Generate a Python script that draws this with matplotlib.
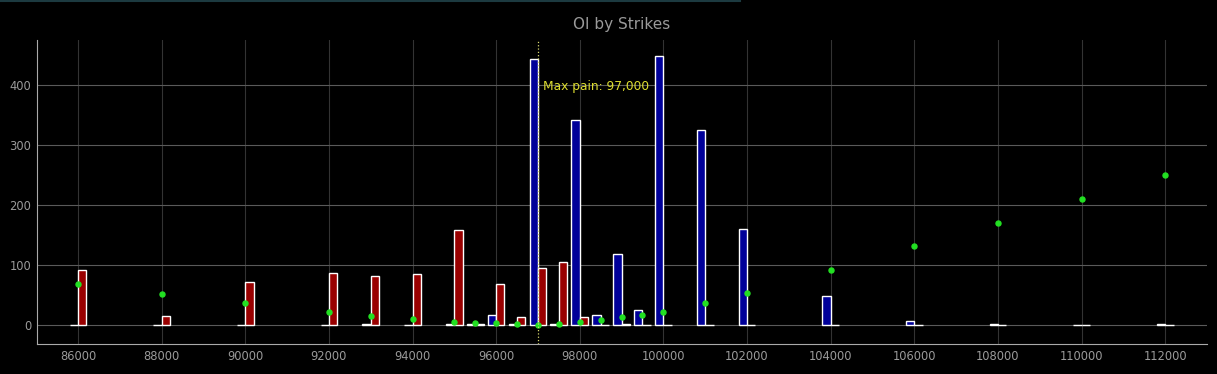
import matplotlib
matplotlib.use("Agg")
import matplotlib.pyplot as plt
from matplotlib.lines import Line2D

strikes = [86000, 88000, 90000, 92000, 93000, 94000, 95000, 95500, 96000, 96500,
           97000, 97500, 98000, 98500, 99000, 99500, 100000, 101000, 102000,
           104000, 106000, 108000, 110000, 112000]
calls_oi = [0, 0, 0, 0, 1, 0, 2, 2, 16, 1,
            443, 2, 341, 16, 118, 24, 449, 325, 160,
            48, 6, 2, 0, 2]
puts_oi = [92, 15, 71, 86, 81, 84, 158, 2, 68, 13,
           94, 104, 13, 0, 2, 0, 0, 0, 0,
           0, 0, 0, 0, 0]
pain = [68, 52, 37, 22, 15, 10, 5, 3, 3, 1,
        0, 1, 4, 8, 13, 17, 22, 37, 53,
        92, 131, 170, 210, 250]
max_pain = 97000
xticks = list(range(86000, 112001, 2000))
yticks = [0, 100, 200, 300, 400]

fig = plt.figure(figsize=(12.17, 3.74), dpi=100, facecolor="black")
ax = fig.add_axes([37/1217, 1-344/374, (1207-37)/1217, (344-40)/374])
ax.set_facecolor("black")

ax.bar(strikes, calls_oi, width=-200, align="edge", color="#000099",
       edgecolor="white", linewidth=1.0, zorder=3)
ax.bar(strikes, puts_oi, width=200, align="edge", color="#990000",
       edgecolor="white", linewidth=1.0, zorder=3)
ax.plot(strikes, pain, "o", color="#22e022", markersize=3.6, zorder=4, linestyle="none")

ax.axvline(max_pain, color="#d8d870", linestyle=":", linewidth=0.9, zorder=5)
ax.text(max_pain + 120, 398, "Max pain: 97,000", color="#dede30", fontsize=8.8,
        va="center", ha="left", zorder=6)

ax.set_xlim(85020, 113000)
ax.set_ylim(-32, 475)
ax.set_xticks(xticks)
ax.set_xticklabels([str(x) for x in xticks])
ax.set_yticks(yticks)
ax.tick_params(colors="#9a9a9a", labelsize=8.3, length=0)
ax.tick_params(axis="y", pad=4)
ax.tick_params(axis="x", pad=4)
ax.grid(axis="y", color="#5a5a5a", linewidth=0.8, zorder=0)
ax.grid(axis="x", color="#333333", linewidth=0.8, zorder=0)
for s in ["top", "right"]:
    ax.spines[s].set_visible(False)
for s in ["left", "bottom"]:
    ax.spines[s].set_color("#aaaaaa")
    ax.spines[s].set_linewidth(0.8)

fig.text(622/1217, 1-24/374, "OI by Strikes", color="#9a9a9a", fontsize=11,
         ha="center", va="center")
fig.add_artist(Line2D([0, 740/1217], [1-0.8/374, 1-0.8/374], color="#1c3a40",
                      linewidth=1.5, transform=fig.transFigure))

fig.savefig("out.png", dpi=100, facecolor="black")
